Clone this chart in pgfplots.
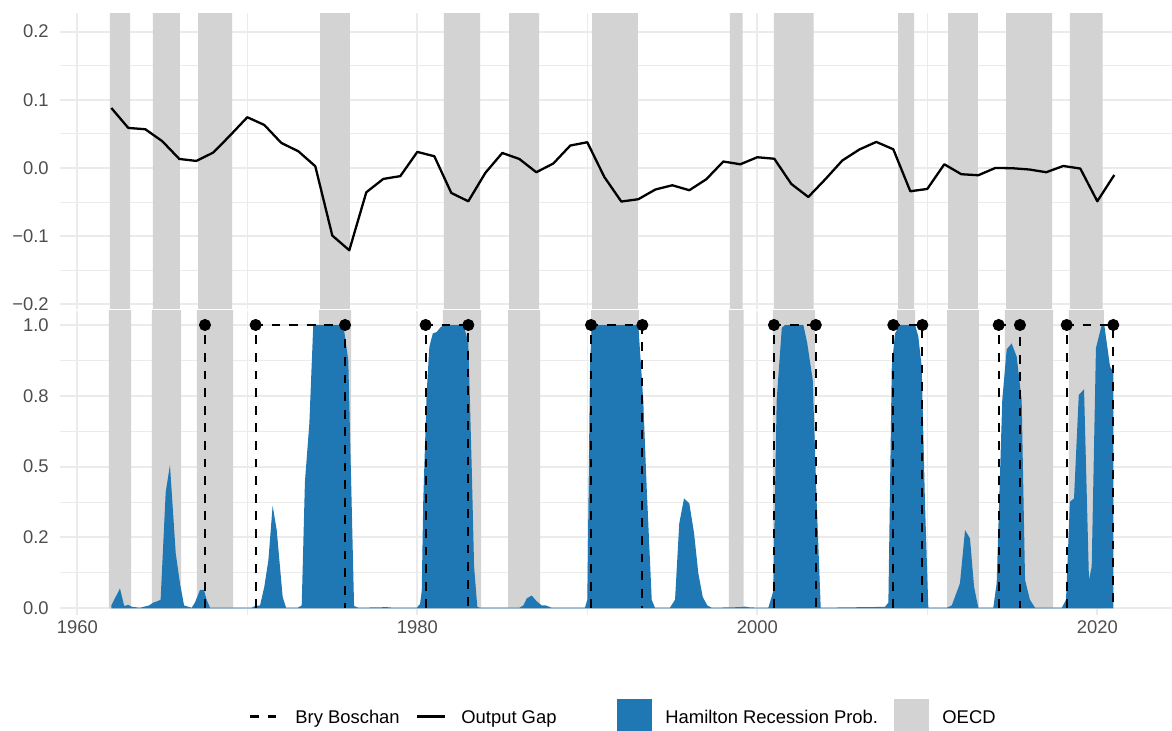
\documentclass[border=0pt]{standalone}
\usepackage{pgfplots}
\pgfplotsset{compat=1.18}
\usepackage{pgfplotstable}
\usepackage{fontspec}
\setmainfont{Liberation Sans}
\definecolor{gridc}{HTML}{EBEBEB}
\definecolor{oecd}{HTML}{D3D3D3}
\definecolor{ham}{HTML}{1F77B4}
\definecolor{tickc}{HTML}{4D4D4D}

\pgfplotstableread{
year gap
1962 0.0880
1963 0.0587
1964 0.0568
1965 0.0392
1966 0.0132
1967 0.0103
1968 0.0226
1969 0.0480
1970 0.0744
1971 0.0631
1972 0.0367
1973 0.0245
1974 0.0025
1975 -0.0992
1976 -0.1208
1977 -0.0357
1978 -0.0161
1979 -0.0120
1980 0.0235
1981 0.0172
1982 -0.0367
1983 -0.0489
1984 -0.0073
1985 0.0220
1986 0.0132
1987 -0.0063
1988 0.0065
1989 0.0329
1990 0.0377
1991 -0.0132
1992 -0.0493
1993 -0.0459
1994 -0.0317
1995 -0.0254
1996 -0.0327
1997 -0.0166
1998 0.0094
1999 0.0054
2000 0.0157
2001 0.0135
2002 -0.0235
2003 -0.0426
2004 -0.0166
2005 0.0109
2006 0.0270
2007 0.0382
2008 0.0274
2009 -0.0342
2010 -0.0308
2011 0.0054
2012 -0.0092
2013 -0.0107
2014 0.0000
2015 -0.0004
2016 -0.0023
2017 -0.0063
2018 0.0029
2019 -0.0009
2020 -0.0489
2021 -0.0103
}\gaptable

\pgfplotstableread{
year prob
1962.00 0.010
1962.51 0.070
1962.76 0.008
1963.00 0.012
1963.22 0.005
1963.69 0.002
1964.22 0.010
1964.47 0.020
1964.71 0.025
1964.90 0.030
1965.20 0.410
1965.45 0.506
1965.79 0.194
1966.04 0.088
1966.28 0.010
1966.73 0.002
1966.92 0.020
1967.22 0.065
1967.45 0.065
1967.61 0.030
1967.81 0.002
1970.26 0.002
1970.45 0.008
1970.75 0.010
1971.00 0.076
1971.24 0.170
1971.49 0.362
1971.73 0.276
1972.08 0.040
1972.28 0.002
1972.96 0.002
1973.20 0.010
1973.39 0.447
1973.65 0.653
1973.88 1.000
1975.65 1.000
1975.94 0.876
1976.28 0.008
1976.53 0.002
1978.20 0.004
1978.60 0.002
1979.96 0.002
1980.16 0.015
1980.26 0.060
1980.35 0.380
1980.55 0.760
1980.71 0.923
1980.91 0.970
1981.14 0.975
1981.34 0.990
1981.53 1.000
1982.71 1.000
1983.00 0.940
1983.20 0.500
1983.34 0.147
1983.53 0.005
1983.69 0.002
1986.00 0.002
1986.24 0.010
1986.44 0.035
1986.73 0.045
1987.02 0.025
1987.32 0.010
1987.55 0.010
1987.91 0.002
1989.86 0.002
1990.00 0.030
1990.16 0.850
1990.26 1.000
1993.00 1.000
1993.29 0.735
1993.49 0.430
1993.79 0.030
1993.98 0.002
1994.86 0.002
1995.16 0.030
1995.41 0.300
1995.69 0.388
1996.00 0.370
1996.28 0.265
1996.53 0.124
1996.79 0.040
1997.06 0.010
1997.32 0.002
1998.98 0.004
1999.27 0.006
1999.57 0.003
2000.65 0.002
2000.79 0.030
2000.94 0.060
2001.14 0.735
2001.44 0.990
2001.63 1.000
2002.71 1.000
2002.94 0.935
2003.26 0.806
2003.49 0.380
2003.73 0.002
2007.51 0.005
2007.71 0.020
2007.91 0.853
2008.10 0.970
2008.39 1.000
2009.28 1.000
2009.47 0.960
2009.67 0.853
2009.86 0.380
2010.06 0.002
2011.14 0.002
2011.44 0.010
2011.92 0.088
2012.22 0.276
2012.51 0.247
2012.75 0.076
2013.00 0.002
2013.88 0.002
2014.08 0.088
2014.41 0.735
2014.67 0.914
2014.96 0.935
2015.26 0.888
2015.55 0.735
2015.75 0.100
2016.04 0.030
2016.34 0.002
2017.91 0.002
2018.16 0.030
2018.39 0.376
2018.63 0.388
2018.91 0.753
2019.22 0.773
2019.51 0.100
2019.67 0.147
2019.92 0.918
2020.26 1.000
2020.41 1.000
2020.75 0.853
2020.94 0.835
}\hamtable

% OECD recession bands (start/end), drawn as a polygon spanning the panel
\pgfplotstableread{
x y
1961.92 -5
1961.92 5
1963.10 5
1963.10 -5
1964.45 -5
1964.45 5
1966.04 5
1966.04 -5
1967.10 -5
1967.10 5
1969.10 5
1969.10 -5
1974.28 -5
1974.28 5
1976.04 5
1976.04 -5
1981.57 -5
1981.57 5
1983.69 5
1983.69 -5
1985.40 -5
1985.40 5
1987.16 5
1987.16 -5
1990.29 -5
1990.29 5
1992.98 5
1992.98 -5
1998.39 -5
1998.39 5
1999.14 5
1999.14 -5
2000.98 -5
2000.98 5
2003.32 5
2003.32 -5
2008.28 -5
2008.28 5
2009.22 5
2009.22 -5
2011.22 -5
2011.22 5
2012.98 5
2012.98 -5
2014.63 -5
2014.63 5
2017.34 5
2017.34 -5
2018.39 -5
2018.39 5
2020.32 5
2020.32 -5
}\oecdtop

\pgfplotstableread{
x y
1961.86 0
1961.86 5
1963.16 5
1963.16 0
1964.39 0
1964.39 5
1966.10 5
1966.10 0
1967.04 0
1967.04 5
1969.16 5
1969.16 0
1974.22 0
1974.22 5
1976.10 5
1976.10 0
1981.51 0
1981.51 5
1983.75 5
1983.75 0
1985.34 0
1985.34 5
1987.22 5
1987.22 0
1990.23 0
1990.23 5
1993.04 5
1993.04 0
1998.33 0
1998.33 5
1999.20 5
1999.20 0
2000.92 0
2000.92 5
2003.38 5
2003.38 0
2008.22 0
2008.22 5
2009.28 5
2009.28 0
2011.16 0
2011.16 5
2013.04 5
2013.04 0
2014.57 0
2014.57 5
2017.40 5
2017.40 0
2018.33 0
2018.33 5
2020.38 5
2020.38 0
}\oecdbot

\pgfplotsset{
  gg/.style={
    scale only axis, width=556pt,
    xmin=1958.982, xmax=2024.394,
    axis line style={draw=none},
    major tick length=0pt, minor tick length=0pt,
    tick style={draw=none},
    grid=both,
    major grid style={gridc, line width=1pt},
    minor grid style={gridc, line width=0.5pt},
    xtick={1960,1980,2000,2020}, minor xtick={1970,1990,2010},
    tick label style={font=\fontsize{9.2}{11}\selectfont, text=tickc},
    yticklabel style={anchor=east, inner sep=0pt, xshift=-5.5pt},
    xticklabel style={anchor=north, inner sep=0pt, yshift=-2.5pt},
    clip=true,
  }
}

\begin{document}
\begin{tikzpicture}
\path[use as bounding box] (0,0) rectangle (586pt,365.5pt);

% ---------- top panel: output gap ----------
\begin{axis}[gg,
  at={(30pt,211pt)}, anchor=south west, height=147.85pt,
  ymin=-0.2069, ymax=0.227,
  ytick={-0.2,-0.1,0,0.1,0.2},
  yticklabels={−0.2,−0.1,0.0,0.1,0.2},
  minor ytick={-0.15,-0.05,0.05,0.15},
  xticklabels={},
]
\addplot[fill=oecd, draw=none] table[x=x,y=y] {\oecdtop};
\addplot[black, line width=1.15pt, line join=round] table[x=year,y=gap] {\gaptable};
\end{axis}

% ---------- bottom panel: recession probabilities ----------
\begin{axis}[gg,
  at={(30pt,58pt)}, anchor=south west, height=152.1pt,
  ymin=-0.02365, ymax=1.0501,
  ytick={0,0.25,0.5,0.75,1},
  yticklabels={0.0,0.2,0.5,0.8,1.0},
  minor ytick={0.125,0.375,0.625,0.875},
  xticklabels={1960,1980,2000,2020},
]
\addplot[fill=oecd, draw=none] table[x=x,y=y] {\oecdbot};
\addplot[fill=ham, draw=none] table[x=year,y=prob] {\hamtable} \closedcycle;
% Bry Boschan turning points
\pgfplotsset{bb/.style={black, line width=1.1pt, dash pattern=on 4.4pt off 4.4pt}}
\addplot[bb] coordinates {(1967.51,0) (1967.51,1)};
\addplot[bb] coordinates {(1970.49,0) (1970.49,1) (1975.75,1) (1975.75,0)};
\addplot[bb] coordinates {(1980.49,0) (1980.49,1) (1983.00,1) (1983.00,0)};
\addplot[bb] coordinates {(1990.22,0) (1990.22,1) (1993.24,1) (1993.24,0)};
\addplot[bb] coordinates {(2000.98,0) (2000.98,1) (2003.44,1) (2003.44,0)};
\addplot[bb] coordinates {(2008.00,0) (2008.00,1) (2009.71,1) (2009.71,0)};
\addplot[bb] coordinates {(2014.20,0) (2014.20,1) (2015.45,1) (2015.45,0)};
\addplot[bb] coordinates {(2018.20,0) (2018.20,1) (2020.94,1) (2020.94,0)};
\addplot[only marks, mark=*, mark size=2.8pt, black] coordinates {
(1967.51,1) (1970.49,1) (1975.75,1) (1980.49,1) (1983.00,1)
(1990.22,1) (1993.24,1) (2000.98,1) (2003.44,1) (2008.00,1)
(2009.71,1) (2014.20,1) (2015.45,1) (2018.20,1) (2020.94,1)};
\end{axis}

% ---------- legend ----------
\begin{scope}[font=\fontsize{9.2}{11}\selectfont]
\draw[black, line width=1.1pt, dash pattern=on 4.4pt off 4.4pt] (125pt,7.25pt) -- (138.5pt,7.25pt);
\node[anchor=base west, inner sep=0pt] at (147.5pt,3.85pt) {Bry Boschan};
\draw[black, line width=1.15pt] (208.5pt,7.25pt) -- (222.5pt,7.25pt);
\node[anchor=base west, inner sep=0pt] at (230.5pt,3.85pt) {Output Gap};
\fill[ham] (308.5pt,-1.5pt) rectangle (326pt,16pt);
\node[anchor=base west, inner sep=0pt] at (332.5pt,3.85pt) {Hamilton Recession Prob.};
\fill[oecd] (447pt,-1.5pt) rectangle (464.5pt,16pt);
\node[anchor=base west, inner sep=0pt] at (471pt,3.85pt) {OECD};
\end{scope}
\end{tikzpicture}
\end{document}
